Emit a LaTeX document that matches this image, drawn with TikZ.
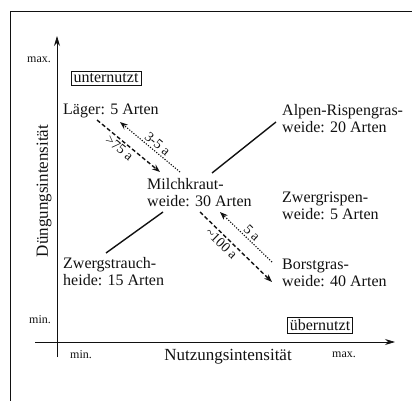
\documentclass[tikz,border=0pt]{standalone}
\usepackage{fontspec}
\setmainfont{Liberation Serif}
\usetikzlibrary{arrows.meta}
\definecolor{inkblack}{HTML}{111111}
\tikzset{
  >=Stealth,
  habitat/.style={anchor=north west, inner sep=0pt, align=left,
    font=\fontsize{16}{17}\selectfont, text=inkblack},
  status/.style={draw=inkblack, line width=0.6pt, inner sep=2.5pt,
    font=\fontsize{16}{17}\selectfont, text=inkblack},
  scalemark/.style={font=\fontsize{12}{14}\selectfont, text=inkblack},
  axislabel/.style={font=\fontsize{17}{18}\selectfont, text=inkblack},
  duration/.style={font=\fontsize{14}{15}\selectfont, inner sep=2pt, text=inkblack},
  axis/.style={-{Stealth[length=10pt,width=6pt]}, line width=0.8pt, draw=inkblack},
  link/.style={line width=1.4pt, draw=inkblack},
  forward/.style={-{Stealth[length=8pt,width=6pt]}, line width=1.4pt,
    dash pattern=on 4pt off 2.5pt, draw=inkblack},
  backward/.style={-{Stealth[length=8pt,width=6pt]}, line width=1.1pt,
    dash pattern=on 1.2pt off 1.5pt, draw=inkblack}
}

\begin{document}
\begin{tikzpicture}[x=1pt,y=-1pt]
\useasboundingbox (0,0) rectangle (412,401);
% frame
\draw[line width=1pt, inkblack] (10,401) -- (10,12) -- (412,12);
% axes
\coordinate (ybot) at (57,357);
\coordinate (ytop) at (57,36);
\coordinate (xleft) at (35,342);
\coordinate (xright) at (395,342);
\draw[axis] (ybot) -- (ytop);
\draw[axis] (xleft) -- (xright);
\node[scalemark] (ymax) at (39,60) {max.};
\node[scalemark] (ymin) at (40,320) {min.};
\node[scalemark] (xmin) at (81,355) {min.};
\node[scalemark] (xmax) at (344,355) {max.};
\node[axislabel, rotate=90] (ylab) at (44,191) {Düngungsintensität};
\node[axislabel] (xlab) at (228,357) {Nutzungsintensität};
\node[status] (under) at (106,78) {unternutzt};
\node[status] (over) at (320,325) {übernutzt};
% vegetation types
\node[habitat] (laeger) at (63,104) {Läger: 5 Arten};
\node[habitat] (milch) at (147,178) {Milchkraut-\\weide: 30 Arten};
\node[habitat] (alpen) at (282,104) {Alpen-Rispengras-\\weide: 20 Arten};
\node[habitat] (zwergr) at (282,192) {Zwergrispen-\\weide: 5 Arten};
\node[habitat] (borst) at (282,259) {Borstgras-\\weide: 40 Arten};
\node[habitat] (zwergs) at (63,257) {Zwergstrauch-\\heide: 15 Arten};
% connections
\draw[link] ([shift={(65,-5)}]milch.north west) -- ([shift={(-6,18)}]alpen.north west);
\draw[link] ([shift={(43,-4)}]zwergs.north west) -- ([shift={(16,34)}]milch.north west);
\draw[forward] ([shift={(34,16)}]laeger.north west)
  -- node[duration, sloped, below, pos=0.43] (t75) {>75 a} ([shift={(13,-6)}]milch.north west);
\draw[backward] ([shift={(33,-6)}]milch.north west)
  -- node[duration, sloped, above, pos=0.45] (t35) {3-5 a} ([shift={(57,18)}]laeger.north west);
\draw[forward] ([shift={(53,34)}]milch.north west)
  -- node[duration, sloped, below, pos=0.37] (t100) {\textasciitilde100 a} ([shift={(-10,23)}]borst.north west);
\draw[backward] ([shift={(-10,3)}]borst.north west)
  -- node[duration, sloped, above, pos=0.48] (t5) {5 a} ([shift={(73,34)}]milch.north west);
\end{tikzpicture}
\end{document}
